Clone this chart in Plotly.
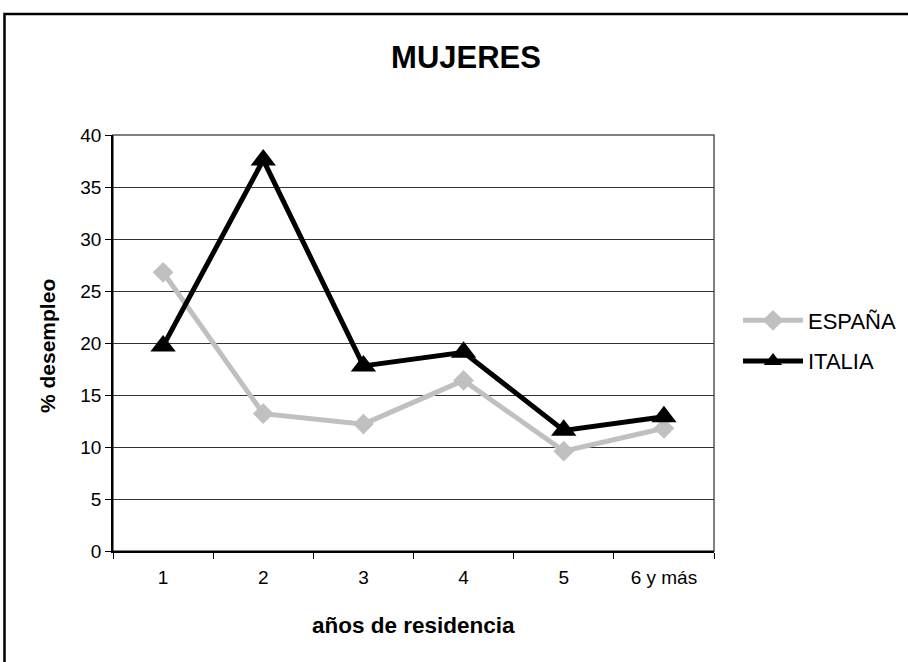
import plotly.graph_objects as go

categories = ["1", "2", "3", "4", "5", "6 y más"]
espana = [26.8, 13.2, 12.2, 16.4, 9.6, 11.8]
italia = [19.7, 37.6, 17.8, 19.1, 11.6, 12.9]
y_ticks = [0, 5, 10, 15, 20, 25, 30, 35, 40]

L, R, T, B = 113, 194, 135, 111
W, H = 908, 662
pw, ph = W - L - R, H - T - B

def px_x(p):
    return (p - L) / pw

def px_y(p):
    return (H - B - p) / ph

fig = go.Figure()
fig.add_trace(go.Scatter(
    x=categories, y=espana, name="ESPAÑA", mode="lines+markers",
    line=dict(color="#c0c0c0", width=5),
    marker=dict(symbol="diamond", size=16, color="#c0c0c0"),
    legendgroup="a", cliponaxis=False,
))
fig.add_trace(go.Scatter(
    x=categories, y=italia, name="ITALIA", mode="lines+markers",
    line=dict(color="#000000", width=5),
    marker=dict(symbol="triangle-up", size=22, color="#000000"),
    legendgroup="b", cliponaxis=False,
))

fig.update_layout(
    width=W, height=H,
    margin=dict(l=L, r=R, t=T, b=B, autoexpand=False),
    paper_bgcolor="white", plot_bgcolor="white",
    font=dict(family="Liberation Sans, Arial", color="black", size=20),
    title=dict(text="<b>MUJERES</b>", x=466 / W, xanchor="center",
               y=1 - 57 / H, yanchor="middle", xref="container", yref="container",
               font=dict(size=31, color="black")),
    showlegend=True,
    legend=dict(x=px_x(738), xanchor="left", y=px_y(341), yanchor="middle",
                font=dict(size=22, color="black"), tracegroupgap=9,
                bgcolor="rgba(0,0,0,0)", itemwidth=60),
    xaxis=dict(type="category", range=[-0.5, 5.5], showgrid=False,
               showline=True, linecolor="black", linewidth=1.5,
               ticks="outside", ticklen=6, tickcolor="black", tickson="boundaries",
               tickfont=dict(size=19), zeroline=False, ticklabelstandoff=8),
    yaxis=dict(range=[0, 40], tickvals=y_ticks, showgrid=True,
               gridcolor="#333333", gridwidth=1,
               showline=True, linecolor="black", linewidth=1.5,
               ticks="outside", ticklen=6, tickcolor="black",
               tickfont=dict(size=19), zeroline=False),
    annotations=[
        dict(text="<b>años de residencia</b>", x=0.5, y=px_y(625), xref="paper", yref="paper",
             xanchor="center", yanchor="middle", showarrow=False, font=dict(size=22.5)),
        dict(text="<b>% desempleo</b>", x=px_x(47), y=px_y(346), xref="paper", yref="paper",
             xanchor="center", yanchor="middle", showarrow=False, textangle=-90,
             font=dict(size=21)),
    ],
    shapes=[
        dict(type="rect", xref="paper", yref="paper", x0=0, x1=1, y0=0, y1=1,
             line=dict(color="#555555", width=1.5), layer="below"),
        dict(type="rect", xref="paper", yref="paper",
             x0=px_x(4.5), x1=px_x(930), y0=px_y(690), y1=px_y(14),
             line=dict(color="black", width=2.5)),
    ],
)

fig.write_html("out.html", config={"displayModeBar": False},
               post_script="document.body.style.margin='0';")
